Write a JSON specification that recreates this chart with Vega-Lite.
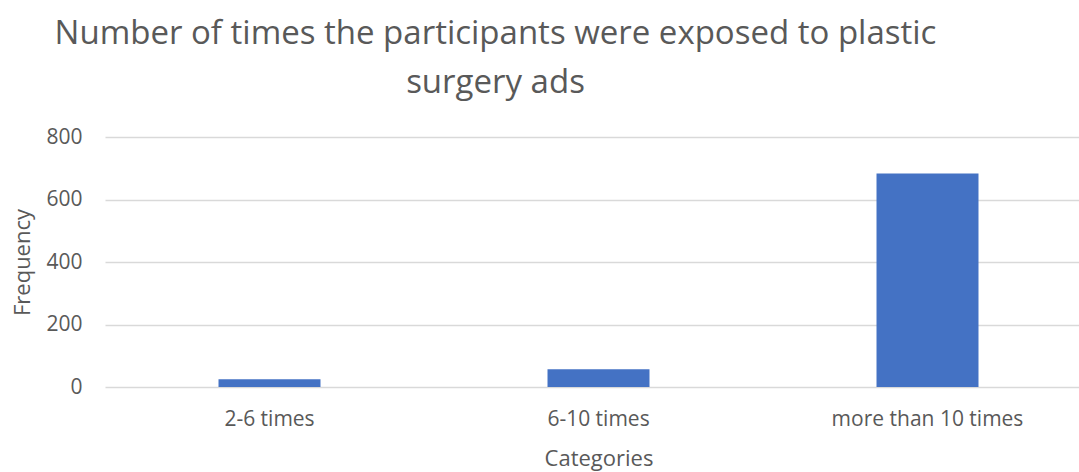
{
  "$schema": "https://vega.github.io/schema/vega-lite/v6.json",
  "autosize": "none",
  "padding": {"left": 105, "top": 137, "right": 0, "bottom": 85},
  "width": 987,
  "height": 250,
  "background": "white",
  "config": {
    "view": {"stroke": null},
    "font": "Open Sans"
  },
  "title": {
    "text": ["Number of times the participants were exposed to plastic", "surgery ads"],
    "anchor": "middle",
    "frame": "group",
    "dx": -103,
    "fontSize": 33,
    "fontWeight": "normal",
    "font": "Open Sans",
    "color": "#595959",
    "lineHeight": 49,
    "offset": 26
  },
  "data": {
    "values": [
      {"category": "2-6 times", "frequency": 25},
      {"category": "6-10 times", "frequency": 57},
      {"category": "more than 10 times", "frequency": 683}
    ]
  },
  "mark": {"type": "bar", "color": "#4472C4"},
  "encoding": {
    "x": {
      "field": "category",
      "type": "nominal",
      "sort": null,
      "scale": {"paddingInner": 0.69, "paddingOuter": 0.345},
      "axis": {
        "title": "Categories",
        "labelAngle": 0,
        "labelFontSize": 21,
        "labelColor": "#595959",
        "labelFont": "Open Sans",
        "labelPadding": 21,
        "labelLimit": 0,
        "ticks": false,
        "tickSize": 0,
        "domain": false,
        "titleFontSize": 22,
        "titleFontWeight": "normal",
        "titleColor": "#595959",
        "titleBaseline": "top",
        "titleY": 61
      }
    },
    "y": {
      "field": "frequency",
      "type": "quantitative",
      "scale": {"domain": [0, 800]},
      "axis": {
        "title": "Frequency",
        "values": [0, 200, 400, 600, 800],
        "labelFontSize": 21,
        "labelColor": "#595959",
        "labelPadding": 23,
        "ticks": false,
        "tickSize": 0,
        "domain": false,
        "gridColor": "#d9d9d9",
        "gridWidth": 1.5,
        "titleFontSize": 22,
        "titleFontWeight": "normal",
        "titleColor": "#595959",
        "titleAngle": -90,
        "titleBaseline": "middle",
        "titleAlign": "center",
        "titleX": -83,
        "titleY": 125
      }
    }
  }
}
